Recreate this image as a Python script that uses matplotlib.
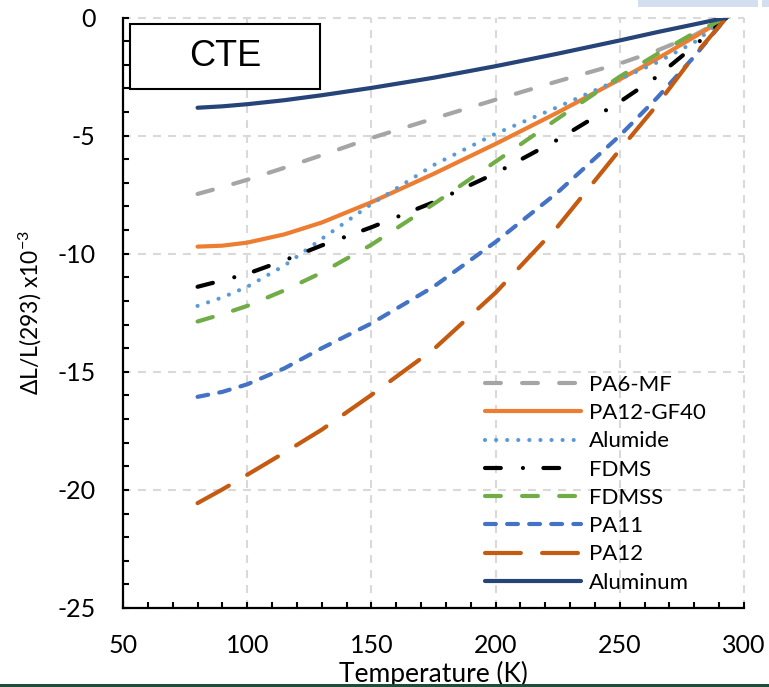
import numpy as np
import matplotlib
matplotlib.use('Agg')
import matplotlib.pyplot as plt
from matplotlib.patches import Rectangle
from matplotlib.ticker import MultipleLocator

plt.rcParams['font.family'] = ['Lato', 'DejaVu Sans']
plt.rcParams['mathtext.default'] = 'regular'
plt.rcParams['axes.unicode_minus'] = False

# temperature (K) and dL/L(293) x1e-3
temp = [80, 90, 100, 115, 130, 150, 175, 200, 225, 250, 265, 280, 293]
pa6_mf = [-7.47, -7.18, -6.87, -6.36, -5.83, -5.10, -4.28, -3.48, -2.70, -1.95, -1.40, -0.75, 0]
pa12_gf40 = [-9.70, -9.66, -9.53, -9.18, -8.68, -7.82, -6.62, -5.35, -4.02, -2.62, -1.75, -0.82, 0]
alumide = [-12.21, -11.85, -11.40, -10.50, -9.37, -7.90, -6.25, -4.92, -3.79, -2.61, -1.90, -1.05, 0]
fdms = [-11.40, -11.13, -10.85, -10.28, -9.65, -8.88, -7.82, -6.59, -5.17, -3.57, -2.50, -1.20, 0]
fdmss = [-12.87, -12.56, -12.21, -11.55, -10.80, -9.62, -7.90, -6.10, -4.28, -2.50, -1.55, -0.65, 0]
pa11 = [-16.06, -15.85, -15.53, -14.85, -14.0, -12.95, -11.40, -9.50, -7.40, -5.00, -3.40, -1.65, 0]
pa12 = [-20.56, -19.98, -19.36, -18.42, -17.45, -15.98, -14.05, -11.65, -8.85, -5.60, -3.70, -1.60, 0]
aluminum = [-3.82, -3.76, -3.67, -3.50, -3.29, -2.98, -2.55, -2.06, -1.53, -0.97, -0.62, -0.29, 0]

fig = plt.figure(figsize=(7.69, 6.87), dpi=100)
ax = fig.add_axes([0.16, 0.115, 0.8075, 0.8595])

lw = 3
ax.plot(temp, pa6_mf, color='#A5A5A5', lw=lw, dashes=(3.8, 5.1), dash_capstyle='round', label='PA6-MF')
ax.plot(temp, pa12_gf40, color='#ED7D31', lw=lw, solid_capstyle='round', label='PA12-GF40')
ax.plot(temp, alumide, color='#5B9BD5', lw=lw, dashes=(0.01, 2.65), dash_capstyle='round', label='Alumide')
ax.plot(temp, fdms, color='black', lw=lw, dashes=(3.8, 5.3, 0.01, 4.9), dash_capstyle='round', label='FDMS')
ax.plot(temp, fdmss, color='#70AD47', lw=lw, dashes=(3.8, 5.1), dash_capstyle='round', label='FDMSS')
ax.plot(temp, pa11, color='#4472C4', lw=lw, dashes=(2.6, 2.7), dash_capstyle='round', label='PA11')
ax.plot(temp, pa12, color='#C55A11', lw=lw, dashes=(8.6, 5.1), dash_capstyle='round', label='PA12')
ax.plot(temp, aluminum, color='#264478', lw=lw, solid_capstyle='round', label='Aluminum')

ax.set_xlim(50, 300)
ax.set_ylim(-25, 0)
ax.xaxis.set_major_locator(MultipleLocator(50))
ax.xaxis.set_minor_locator(MultipleLocator(10))
ax.yaxis.set_major_locator(MultipleLocator(5))
ax.yaxis.set_minor_locator(MultipleLocator(1))

ax.grid(True, which='major', color='#D9D9D9', lw=1.5, ls=(0, (3.8, 3.4)))
for gl in ax.get_xgridlines() + ax.get_ygridlines():
    gl.set_clip_on(False)
ax.set_axisbelow(True)

for s in ['top', 'right']:
    ax.spines[s].set_visible(False)
for s in ['left', 'bottom']:
    ax.spines[s].set_linewidth(1.6)
    ax.spines[s].set_zorder(5)

ax.tick_params(which='both', direction='in', length=4.5, width=1.5)
ax.tick_params(axis='y', which='major', pad=20, labelsize=18)
ax.tick_params(axis='x', which='major', pad=19, labelsize=18)

ax.set_ylabel('ΔL/L(293) x10$^{-3}$', fontsize=16.5)
ax.yaxis.set_label_coords(-0.128, 0.5)
ax.set_xlabel('Temperature (K)', fontsize=19)
ax.xaxis.set_label_coords(0.5, -0.09)

leg = ax.legend(loc='upper left', bbox_to_anchor=(0.6307, 0.4541), bbox_transform=fig.transFigure,
                frameon=False, fontsize=16, handlelength=4.3, handletextpad=0.36,
                labelspacing=0.37, borderpad=0, borderaxespad=0)

ax.add_patch(Rectangle((0.0113, 0.879), 0.306, 0.11, transform=ax.transAxes,
                       facecolor='white', edgecolor='black', lw=1.5, zorder=6))
ax.text(0.0113 + 0.153, 0.934, 'CTE', transform=ax.transAxes, ha='center', va='center',
        fontsize=26, family='Liberation Sans', zorder=7)

# screenshot edges
fig.patches.append(Rectangle((638 / 769, 1 - 7 / 687), 120 / 769, 7 / 687,
                             transform=fig.transFigure, facecolor='#D3DEEF', edgecolor='none'))
fig.patches.append(Rectangle((762 / 769, 1 - 7 / 687), 7 / 769, 7 / 687,
                             transform=fig.transFigure, facecolor='#D3DEEF', edgecolor='none'))
fig.patches.append(Rectangle((0, 0), 1, 3 / 687, transform=fig.transFigure,
                             facecolor='#1E4D3A', edgecolor='none', zorder=10))

fig.savefig('out.png', dpi=100)
